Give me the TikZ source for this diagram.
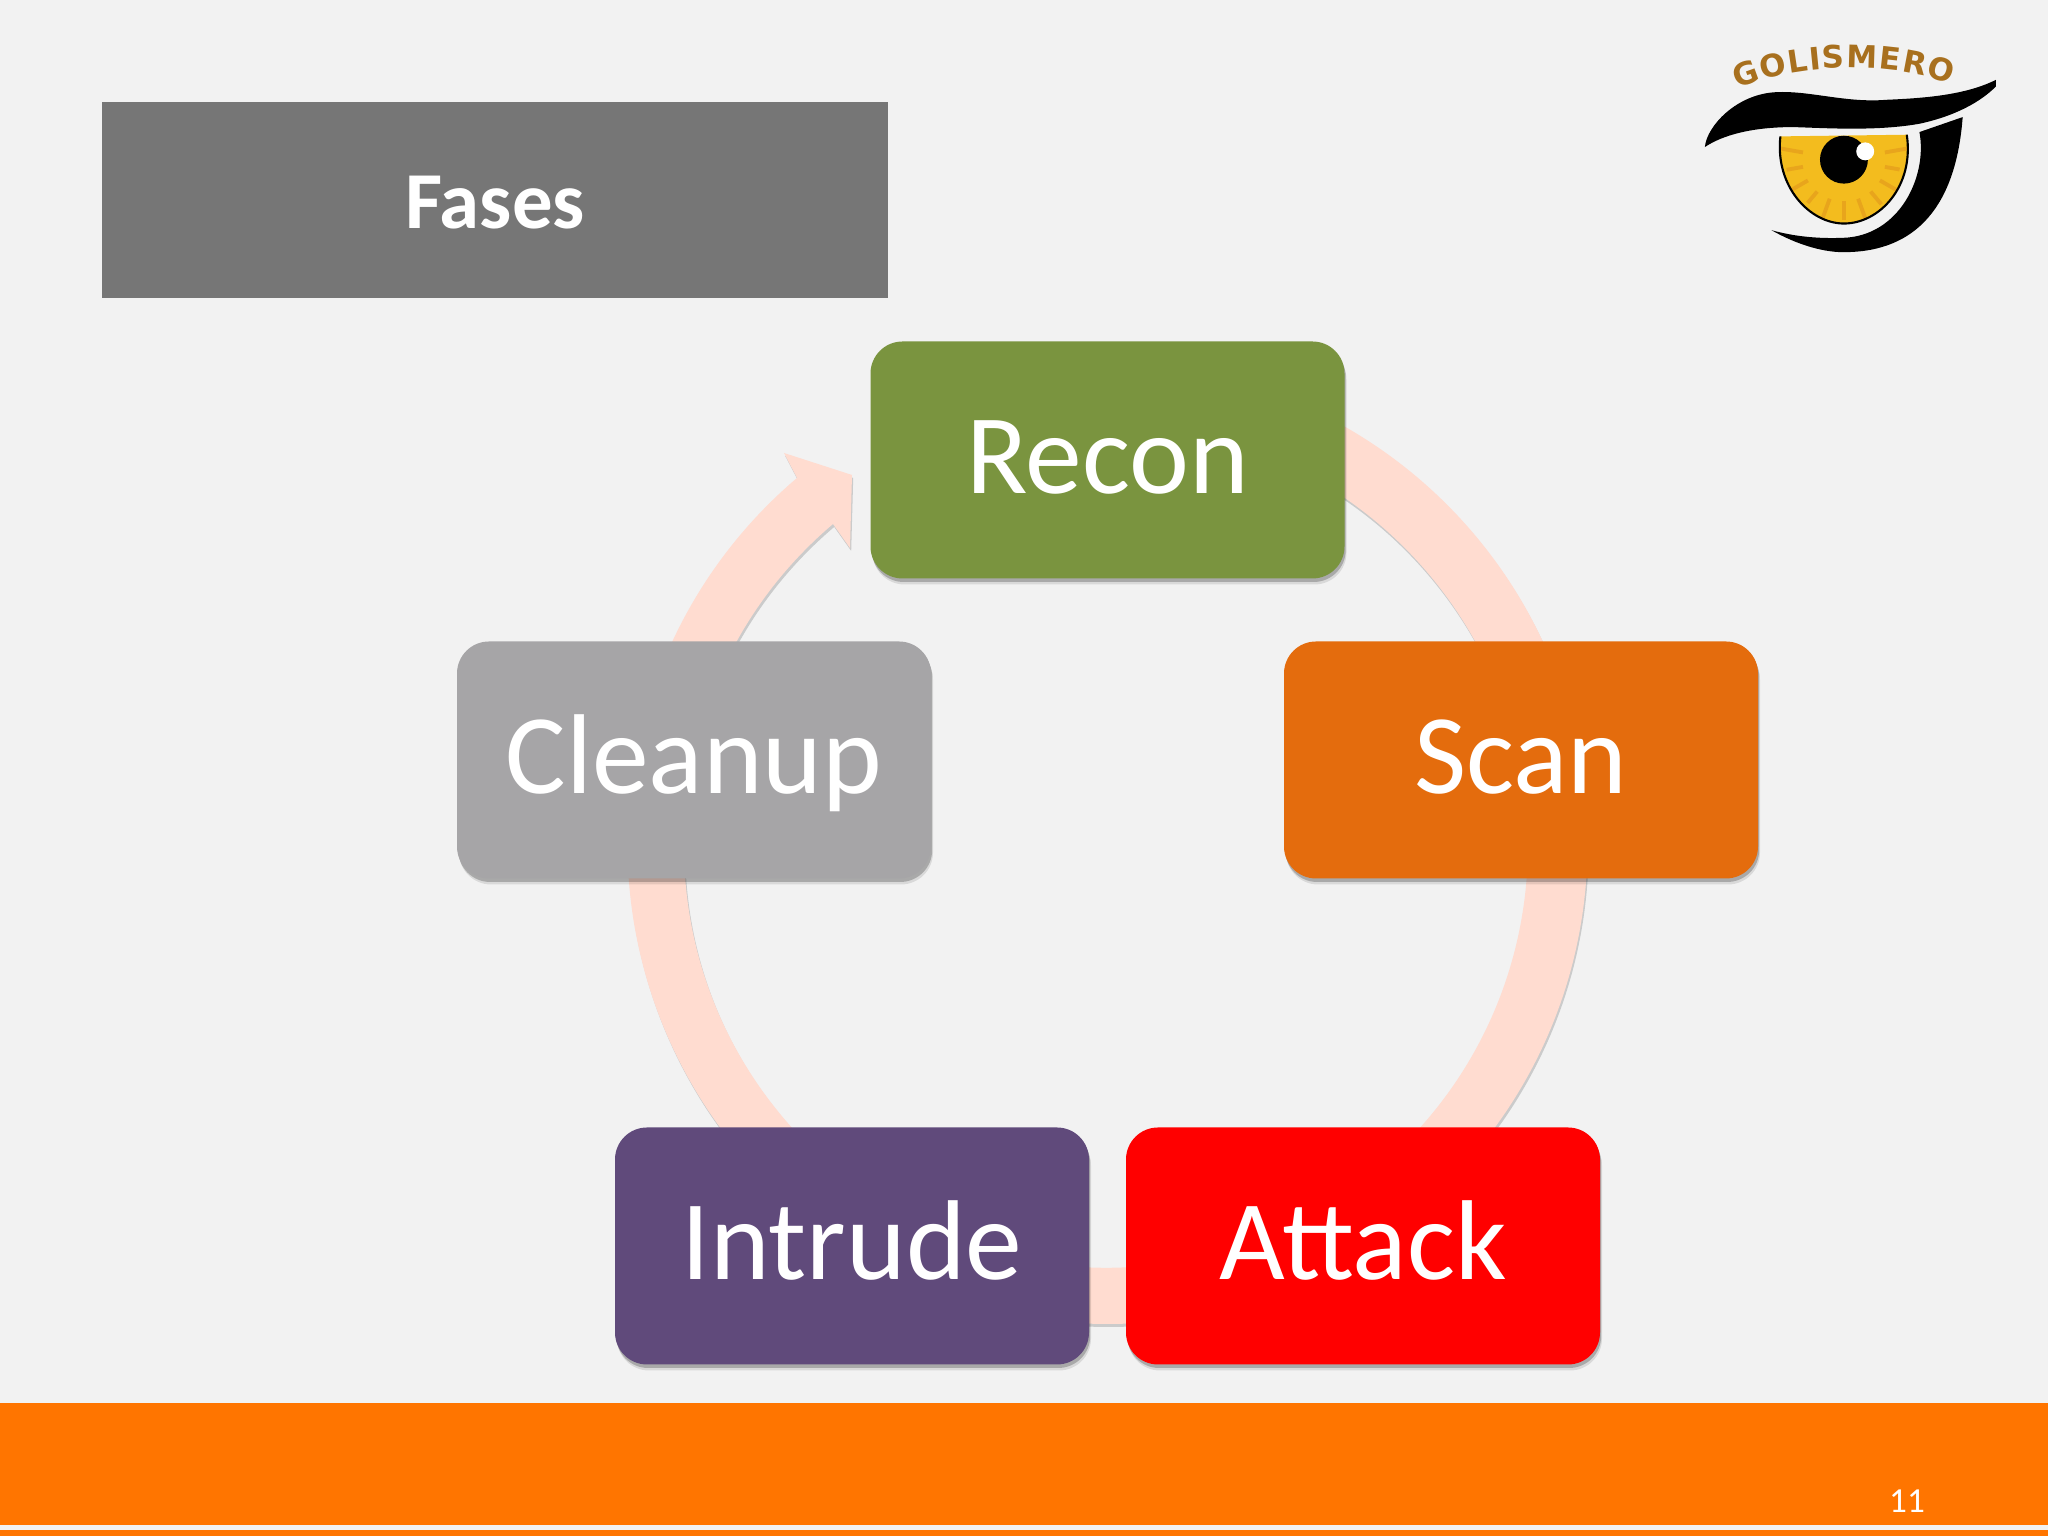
\documentclass[tikz,border=0pt]{standalone}
\usepackage{fontspec}
\setmainfont{Carlito}
\newfontfamily\logofont{DejaVu Sans}
\usetikzlibrary{shadows,decorations.text}

\definecolor{pagebg}{HTML}{F2F2F2}
\definecolor{titlegray}{HTML}{767676}
\definecolor{bandorange}{HTML}{FF7500}
\definecolor{ringpink}{HTML}{FFDCD0}
\definecolor{reconcol}{HTML}{7A943F}
\definecolor{scancol}{HTML}{E46C0D}
\definecolor{attackcol}{HTML}{FF0000}
\definecolor{intrudecol}{HTML}{604A7B}
\definecolor{cleanupcol}{HTML}{A6A5A7}
\definecolor{irisyellow}{HTML}{F3BC1E}
\definecolor{irisray}{HTML}{E8A51C}
\definecolor{logobrown}{HTML}{A8701E}

\tikzset{
    softshadow/.style={
        drop shadow={shadow xshift=0.02cm,shadow yshift=-0.06cm,opacity=0.10,fill=black},
        drop shadow={shadow xshift=0.012cm,shadow yshift=-0.035cm,opacity=0.22,fill=black}},
    ringshadow/.style={drop shadow={shadow xshift=0.012cm,shadow yshift=-0.03cm,opacity=0.16,fill=black}},
    phasebox/.style={rounded corners=0.32cm,minimum width=4.74cm,minimum height=2.37cm,
        inner sep=0pt,text=white,text height=0.92cm,text depth=0.24cm,
        font=\fontsize{32.3}{36}\selectfont,softshadow},
}

\begin{document}
\begin{tikzpicture}
        \useasboundingbox (0,0) rectangle (20.48,15.36);
        \fill[pagebg] (0,0) rectangle (20.48,15.36);

        % bande du bas
        \fill[bandorange] (0,0.11) rectangle (20.48,1.33);
        \fill[bandorange] (0,0) rectangle (20.48,0.06);
        \node[text=white,font=\fontsize{10}{12}\selectfont,anchor=base] (pagenum) at (19.07,0.23) {11};

        % titre
        \node[fill=titlegray,minimum width=7.86cm,minimum height=1.96cm,inner sep=0pt,
            text height=0.70cm,text depth=0.12cm,
            text=white,font=\bfseries\fontsize{23}{26}\selectfont] (title) at (4.95,13.36) {Fases};

        % anneau et fleche
        \coordinate (ringCenter) at (11.075,6.92);
        \fill[ringpink,ringshadow] (ringCenter) ++ (90:4.8)
            arc[start angle=90,end angle=-229.7,radius=4.8]
            -- (7.84,10.83) -- (8.52,10.61) -- (8.50,9.88) -- (8.33,10.12)
            arc[start angle=-229.7,end angle=90,radius=4.22] -- cycle;

        % les phases
        \node[phasebox,fill=reconcol] (recon) at (11.075,10.76) {Recon};
        \node[phasebox,fill=scancol] (scan) at (15.21,7.76) {Scan};
        \node[phasebox,fill=attackcol] (attack) at (13.63,2.90) {Attack};
        \node[phasebox,fill=intrudecol] (intrude) at (8.52,2.90) {Intrude};
        \node[phasebox,fill=cleanupcol] (cleanup) at (6.94,7.76) {Cleanup};

        % logo
        \begin{scope}[shift={(16.60,15.16)},x=0.003333cm,y=-0.003333cm]
            \path[postaction={decorate},decoration={text along path,text align={fit to path},
                text={|\logofont\bfseries\fontsize{8.8}{10}\selectfont\color{logobrown}|GOLISMERO}}]
                (232,207) .. controls (380,140) and (660,115) .. (875,192);

            % iris
            \begin{scope}
                \clip (362,350) .. controls (345,500) and (450,612) .. (553,612)
                    .. controls (660,612) and (765,500) .. (742,345) -- cycle;
                \fill[irisyellow] (340,340) rectangle (770,620);
                \foreach \ang/\len in {-10/70,10/45,30/70,50/50,70/75,90/55,110/70,130/45,150/70,170/50,190/70} {
                    \draw[irisray,line width=1.1pt] (553,420) ++ (\ang:125) -- ++ (\ang:\len);
                }
                \fill (553,420) circle[radius=72];
            \end{scope}
            \draw[line width=0.6pt] (362,350) .. controls (345,500) and (450,612) .. (553,612)
                .. controls (660,612) and (765,500) .. (742,345);
            \fill[white] (617,395) circle[radius=27];

            % sourcil et paupiere
            \fill (135,382) .. controls (140,320) and (230,222) .. (350,217)
                .. controls (450,212) and (560,250) .. (680,240)
                .. controls (800,235) and (920,225) .. (1010,180)
                -- (1010,200) .. controls (950,260) and (860,295) .. (780,312)
                .. controls (650,335) and (500,325) .. (400,322)
                .. controls (280,322) and (190,345) .. (135,382) -- cycle;
            \fill (910,292) -- (780,337) .. controls (805,470) and (720,650) .. (550,655)
                .. controls (470,658) and (400,650) .. (335,632)
                .. controls (420,680) and (500,700) .. (560,698)
                .. controls (770,695) and (890,560) .. (910,292) -- cycle;
        \end{scope}
    \end{tikzpicture}
\end{document}
